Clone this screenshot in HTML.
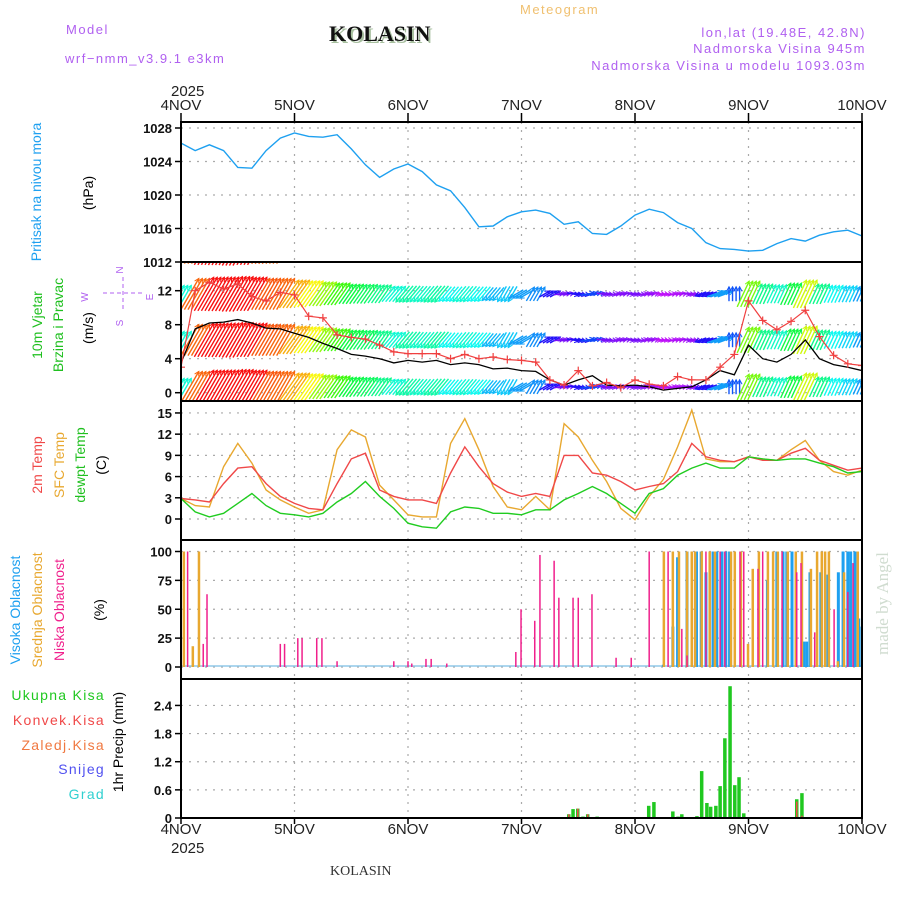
<!DOCTYPE html>
<html><head><meta charset="utf-8">
<style>
html,body{margin:0;padding:0;background:#fff;}
svg{display:block;font-family:"Liberation Sans",sans-serif;}
.t{font-size:13px;letter-spacing:1.5px;}
</style></head>
<body>
<svg id="chart" width="900" height="900" viewBox="0 0 900 900" xmlns="http://www.w3.org/2000/svg">
<text x="66" y="34" class="t" fill="#b060f0" font-size="15">Model</text>
<text x="65" y="63" class="t" fill="#b060f0" font-size="16">wrf−nmm_v3.9.1 e3km</text>
<text x="331" y="43" font-family="Liberation Serif,serif" font-weight="bold" font-size="22" fill="#a8c0a0">KOLASIN</text>
<text x="329" y="41" font-family="Liberation Serif,serif" font-weight="bold" font-size="22" fill="#111">KOLASIN</text>
<text x="520" y="14" class="t" fill="#f0c070" font-size="16">Meteogram</text>
<text x="866" y="37" class="t" fill="#b060f0" text-anchor="end">lon,lat (19.48E, 42.8N)</text>
<text x="866" y="53" class="t" fill="#b060f0" text-anchor="end">Nadmorska Visina 945m</text>
<text x="866" y="70" class="t" fill="#b060f0" text-anchor="end">Nadmorska Visina u modelu 1093.03m</text>
<text x="888" y="655" transform="rotate(-90 888 655)" font-family="Liberation Serif,serif" font-size="17" fill="#d0dcd0">made by Angel</text>
<text x="330" y="875" font-family="Liberation Serif,serif" font-size="14" fill="#333">KOLASIN</text>
<g id="g"></g>
</svg>
<script>
// ===== data (3-hourly, hours 0..144 from 4NOV 00UTC) =====
const dayLabels = ["4NOV","5NOV","6NOV","7NOV","8NOV","9NOV","10NOV"];
const pressure = [1026.2,1025.3,1026.0,1025.3,1023.3,1023.2,1025.3,1026.8,1027.4,1027.0,1026.9,1027.2,1025.5,1023.6,1022.1,1023.1,1023.7,1022.8,1021.2,1020.5,1018.5,1016.2,1016.3,1017.4,1018.0,1018.2,1017.8,1016.5,1016.8,1015.4,1015.3,1016.3,1017.6,1018.3,1017.9,1016.7,1016.0,1014.3,1013.6,1013.5,1013.3,1013.4,1014.2,1014.8,1014.5,1015.2,1015.6,1015.8,1015.1];
const windSpeed = [3.5,7.5,8.2,8.3,8.6,8.2,7.6,7.5,7.0,6.5,5.8,5.2,4.5,4.3,4.0,3.5,3.8,3.6,3.8,3.3,3.5,3.3,2.8,2.9,2.6,2.5,1.5,0.9,1.5,2.0,0.9,0.8,0.9,0.7,0.3,0.5,0.7,1.5,2.6,2.1,5.6,4.0,3.6,4.5,6.2,4.0,3.3,3.0,2.6];
const windGust = [3,12,13,12.2,12.8,11.3,10.8,11.8,11.5,9,8.8,6.8,6.5,6.3,5.6,4.8,4.6,4.6,4.6,4.0,4.5,4.0,4.2,3.9,3.8,3.6,1.5,0.9,2.6,0.8,1.2,0.6,1.5,1.0,0.8,1.9,1.5,1.5,3.0,4.5,10.8,8.5,7.4,8.4,9.7,6.6,4.4,3.4,3.2];
const windDir = [30,30,30,30,30,30,30,30,35,35,35,35,35,35,35,40,220,220,220,220,220,220,220,210,240,30,60,80,100,80,100,80,100,80,100,80,100,250,70,0,25,25,25,25,25,25,25,25,25];
const temp2m = [2.9,2.7,2.4,5.0,7.2,7.4,5.0,3.2,2.2,1.5,1.3,5.0,8.5,9.3,4.1,3.2,2.7,2.7,2.2,6.5,10.2,7.4,5.0,3.8,3.2,3.6,3.2,9.0,9.0,6.5,6.2,5.3,4.1,4.6,5.0,6.7,10.7,8.8,8.3,8.1,8.8,8.3,8.3,9.3,10.0,8.3,7.6,6.9,7.2];
const tempSfc = [2.9,1.9,1.7,7.4,10.7,7.9,4.1,2.7,1.7,0.8,1.3,9.8,12.6,11.6,4.8,2.7,0.6,0.3,0.3,10.7,14.2,9.8,4.6,1.7,1.3,3.2,1.3,13.5,11.6,8.3,5.3,1.5,-0.1,3.2,5.6,10.2,15.4,8.5,8.1,8.1,8.8,8.5,8.3,9.8,11.1,8.3,6.7,6.2,6.9];
const dewpoint = [2.9,1.0,0.3,0.8,2.2,3.6,1.9,0.8,0.6,0.3,0.8,2.4,3.6,5.3,3.2,1.5,-0.6,-1.1,-1.3,1.0,1.7,1.5,0.8,0.8,0.6,1.3,1.3,2.7,3.6,4.6,3.6,2.2,0.8,3.6,4.3,6.2,7.2,7.9,7.2,7.2,8.8,8.5,8.3,8.5,8.5,7.9,7.4,6.5,6.7];
// cloud bars (hour, percent)
const highHours = [102,104,105,107,109,110,111,112.5,113.3,114.4,115.2,116,124,126,127.3,128.1,129.2,131.7,132.3,133,135.3,136.8,139,140,141,141.6,142.5,143.3,144];
const highVals  = [2,35,95,100,100,100,82,100,100,100,100,100,75,100,100,100,100,22,22,82,82,80,82,100,100,100,100,42,35];
const midHours = [0.6,2.5,3.8,102.1,104,105.3,107,108,108.7,110.1,111.8,112.9,116.3,117.1,118.4,119.9,120.9,122.2,124.1,125.2,126.2,128.3,130,131.3,133.2,134.5,135.5,136.2,137,138.9,140.2,143.1];
const midVals  = [100,18,100,100,100,100,100,100,100,100,100,100,100,100,100,20,85,100,100,100,100,100,100,100,85,100,100,100,100,5,82,100];
const lowHours = [1.4,4.7,5.5,21,21.9,24.7,25.6,28.7,29.8,33,45,48,48.8,51.8,52.9,56.2,70.8,71.9,74.8,75.9,78.9,79.9,82.9,84,86.9,92,95.2,99,103,105.9,107,111,114,115,118.2,119,122,123,127.1,130.2,131.1,134,138.1,141,142.1];
const lowVals  = [100,20,63,20,20,25,25,25,25,5,5,5,3,7,7,3,13,50,40,97,92,60,60,60,63,8,8,100,100,33,10,100,100,100,100,100,85,100,100,82,90,30,50,65,90];
// precipitation (hour, mm)
const precipHours = [3.5,23,82,82.9,83.9,85,86,88,98.9,100,104,105.1,105.9,109.1,110.1,111.2,112,113.1,114,115,116.1,117.1,118,119,130.2,131.3];
const precipTotal = [0.02,0.02,0.08,0.19,0.2,0.03,0.08,0.03,0.26,0.34,0.14,0.03,0.08,0.04,1.0,0.32,0.24,0.26,0.68,1.7,2.81,0.7,0.87,0.1,0.4,0.53];
const convHours = [82,83.9,86,130.2,131.3];
const convVals  = [0.08,0.2,0.08,0.35,0.05];
const presTicks = [1012,1016,1020,1024,1028];
const windTicks = [0,4,8,12];
const tempTicks = [0,3,6,9,12,15];
const cloudTicks = [0,25,50,75,100];
const precipTicks = ["0","0.6","1.2","1.8","2.4"];

// ===== layout =====
const X0=181,X1=862, panels=[[122,262],[262,401],[401,540],[540,679],[679,818]];
const NS="http://www.w3.org/2000/svg", G=document.getElementById('g');
function el(t,a,p){const e=document.createElementNS(NS,t);for(const k in a)e.setAttribute(k,a[k]);(p||G).appendChild(e);return e;}
const xh = h => X0 + h*(X1-X0)/144;
const xi = i => xh(i*3);
const yP = v => 128 + (1028-v)*134/16;
const yW = v => 392.7 - 8.5*v;
const yT = v => 519 - 7.07*v;
const yC = v => 667 - 1.155*v;
const yR = v => 818 - 46.9*v;

panels.forEach((p,i)=>{const c=el('clipPath',{id:'c'+i});el('rect',{x:X0,y:p[0],width:X1-X0,height:p[1]-p[0]},c);});

function hgrid(vals,fy,pi){vals.forEach(v=>{const y=fy(+v);if(y>panels[pi][0]+2&&y<panels[pi][1]-1){
 const l=el('line',{x1:X0,x2:X1,y1:y,y2:y,stroke:'#aaa','stroke-dasharray':'2,6','stroke-width':1.2});
 
 }});}
for(let d=1;d<6;d++){const x=xh(d*24);const l=el('line',{x1:x,x2:x,y1:122,y2:818,stroke:'#aaa','stroke-dasharray':'2,6','stroke-width':1.2});
 
 }
hgrid(presTicks,yP,0);hgrid(windTicks,yW,1);hgrid(tempTicks,yT,2);hgrid(cloudTicks,yC,3);hgrid(precipTicks,yR,4);

function ticks(vals,fy,name){vals.forEach(v=>{const y=fy(+v);
 const t=el('text',{x:172,y:y+5,'text-anchor':'end','font-size':13,fill:'#111','font-weight':'bold'});t.textContent=v;
 
 
 el('line',{x1:X0-6,x2:X0,y1:y,y2:y,stroke:'#000','stroke-width':1.5});});}
ticks(presTicks,yP,'pressure');ticks(windTicks,yW,'wind');ticks(tempTicks,yT,'temp');ticks(cloudTicks,yC,'cloud');ticks(precipTicks,yR,'precip');

dayLabels.forEach((d,i)=>{const x=xh(i*24);
 const a=el('text',{x:x,y:110,'text-anchor':'middle','font-size':15,fill:'#222'});a.textContent=d;
 
 
 const b=el('text',{x:x,y:834,'text-anchor':'middle','font-size':15,fill:'#222'});b.textContent=d;
 
 
 el('line',{x1:x,x2:x,y1:113,y2:122,stroke:'#000','stroke-width':1.5});
 el('line',{x1:x,x2:x,y1:818,y2:824,stroke:'#000','stroke-width':1.5});});
[[171,96],[171,853]].forEach(p=>{const t=el('text',{x:p[0],y:p[1],'font-size':15,fill:'#222'});t.textContent="2025";
 
 });

function line(arr,fy,color,pi,name,w){const pts=arr.map((v,i)=>xi(i).toFixed(1)+','+fy(v).toFixed(1)).join(' ');
 const p=el('polyline',{points:pts,fill:'none',stroke:color,'stroke-width':w||1.3,'clip-path':'url(#c'+pi+')'});
 
 }

line(pressure,yP,'#1ea0f0',0,'pressure-line',1.4);

// wind arrows
const hue = s => Math.max(0,Math.min(285,300-s*37));
const wg=el('g',{'clip-path':'url(#c1)'});


[387,340,294,248].forEach(yc=>{windSpeed.forEach((s,i)=>{
 const a=windDir[i]*Math.PI/180, L=6+s*4;
 const dx=Math.sin(a)*L/2, dy=-Math.cos(a)*L/2, x=xi(i);
 const col='hsl('+hue(s)+',95%,52%)';
 for(let k=0;k<4;k++){const ox=(k-1.5)*(xh(0.75)-X0);
  el('line',{x1:x+ox-dx,y1:yc-dy,x2:x+ox+dx,y2:yc+dy,stroke:col,'stroke-width':1.4},wg);
  const hx=x+ox+dx,hy=yc+dy,ha=a+Math.PI;
  el('polyline',{points:(hx+Math.sin(ha+0.5)*5)+','+(hy-Math.cos(ha+0.5)*5)+' '+hx+','+hy+' '+(hx+Math.sin(ha-0.5)*5)+','+(hy-Math.cos(ha-0.5)*5),fill:'none',stroke:col,'stroke-width':1},wg);}
});});
line(windSpeed,yW,'#000',1,'wind-speed-line',1.3);
line(windGust,yW,'#f04040',1,'wind-gust-line',1.2);
windGust.forEach((v,i)=>{const x=xi(i),y=yW(v);
 const m=el('path',{d:`M${x-4},${y}h8M${x},${y-4}v8`,stroke:'#f04040','stroke-width':1.2,'clip-path':'url(#c1)'});
 
 });

line(tempSfc,yT,'#e8a830',2,'sfc-temp-line',1.4);
line(temp2m,yT,'#f04848',2,'temp-2m-line',1.4);
line(dewpoint,yT,'#20cc20',2,'dewpoint-line',1.4);

el('line',{x1:X0,x2:X1,y1:666,y2:666,stroke:'#90c8e8','stroke-width':1.5});
function bars(hours,vals,fy,color,w,pi,name){hours.forEach((h,i)=>{const y=fy(vals[i]),y0=fy(0);
 const r=el('rect',{x:xh(h)-w/2,y:y,width:w,height:Math.max(0.5,y0-y),fill:color,'clip-path':'url(#c'+pi+')'});
 
 });}
bars(highHours,highVals,yC,'#1ea0f0',3,3,'high-cloud-bar');
bars(midHours,midVals,yC,'#e8a830',2.5,3,'mid-cloud-bar');
bars(lowHours,lowVals,yC,'#f0208c',1.5,3,'low-cloud-bar');

bars(precipHours,precipTotal,yR,'#20c820',3.5,4,'total-precip-bar');
bars(convHours,convVals,yR,'#f04848',1.5,4,'convective-precip-bar');

panels.forEach(p=>{const r=el('rect',{x:X0,y:p[0],width:X1-X0,height:p[1]-p[0],fill:'none',stroke:'#000','stroke-width':2});
 
 });

function vlabel(x,y,txt,color,name,fs){const t=el('text',{x:x,y:y,'text-anchor':'middle','font-size':fs||14,fill:color,transform:`rotate(-90 ${x} ${y})`});t.textContent=txt;
 
 }
vlabel(41,192,'Pritisak na nivou mora','#1ea0f0','pressure-title');
vlabel(93,193,'(hPa)','#000','pressure-unit');
vlabel(42,325,'10m Vjetar','#20c020','wind-title-1');
vlabel(63,325,'Brzina i Pravac','#20c020','wind-title-2');
vlabel(93,328,'(m/s)','#000','wind-unit');
vlabel(42,465,'2m Temp','#f04848','temp-2m-title');
vlabel(64,465,'SFC Temp','#e8a830','sfc-temp-title');
vlabel(85,465,'dewpt Temp','#20c020','dewpoint-title');
vlabel(106,465,'(C)','#000','temp-unit');
vlabel(20,610,'Visoka Oblacnost','#1ea0f0','high-cloud-title');
vlabel(42,610,'Srednja Oblacnost','#e8a830','mid-cloud-title');
vlabel(64,610,'Niska Oblacnost','#f0208c','low-cloud-title');
vlabel(104,610,'(%)','#000','cloud-unit');
vlabel(123,742,'1hr Precip (mm)','#000','precip-title');
[['Ukupna Kisa','#20c820',700],['Konvek.Kisa','#f04848',725],['Zaledj.Kisa','#f07840',750],['Snijeg','#5050f0',774],['Grad','#30d0d0',799]].forEach(l=>{
 const t=el('text',{x:105,y:l[2],'text-anchor':'end','font-size':14,'letter-spacing':1.3,fill:l[1]});t.textContent=l[0];
 
 });
const cg=el('g',{fill:'#b060f0','font-size':10});


[['N',123,270],['W',88,297],['E',153,297],['S',123,323]].forEach(c=>{const t=el('text',{x:c[1],y:c[2],'text-anchor':'middle',transform:`rotate(-90 ${c[1]} ${c[2]})`},cg);t.textContent=c[0];});
el('path',{d:'M103,293h40M123,277v32',stroke:'#b060f0','stroke-width':1,'stroke-dasharray':'4,3',fill:'none'},cg);
</script>
</body></html>
